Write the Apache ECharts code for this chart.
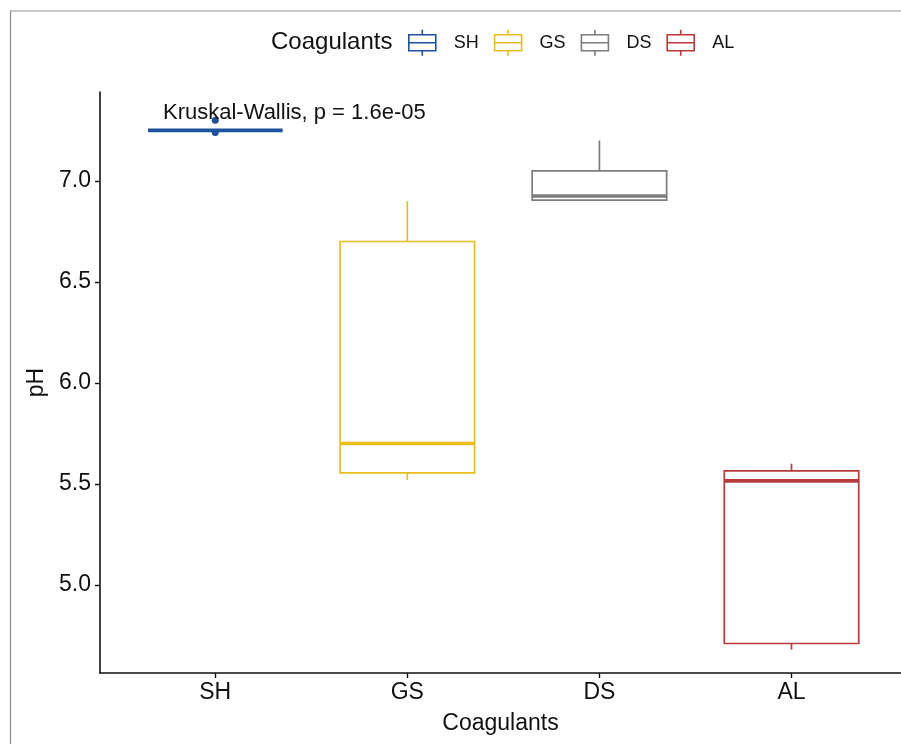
<!DOCTYPE html>
<html>
<head>
<meta charset="utf-8">
<script src="https://cdn.jsdelivr.net/npm/echarts@6/dist/echarts.min.js"></script>
<style>html,body{margin:0;padding:0;background:#fff;}#c{width:901px;height:744px;}</style>
</head>
<body>
<div id="c"></div>
<script>
// ---- data ----
const categories = ['SH', 'GS', 'DS', 'AL'];
const colors = ['#1d519c', '#e8bd1c', '#7d7d7d', '#b83b3b'];
// [min, Q1, median, Q3, max]
const boxSH = [7.25, 7.25, 7.25, 7.25, 7.25];
const boxGS = [5.52, 5.555, 5.70, 6.70, 6.90];
const boxDS = [6.905, 6.905, 6.925, 7.05, 7.20];
const boxAL = [4.68, 4.71, 5.515, 5.565, 5.60];
const outliersSH = [7.30, 7.24];
const yTicks = [5.0, 5.5, 6.0, 6.5, 7.0];
const statText = 'Kruskal-Wallis, p = 1.6e-05';

const boxes = [boxSH, boxGS, boxDS, boxAL];
const BOX_W = 0.7;
const FONT = "'Liberation Sans', Arial, Helvetica, sans-serif";
const legendIcon = 'path://M0,5 L27,5 L27,21 L0,21 Z M0,13 L27,13 M13.5,0 L13.5,5 M13.5,21 L13.5,26';

function renderBox(params, api) {
  const x = api.value(0);
  const lo = api.coord([x, api.value(1)]);
  const q1 = api.coord([x, api.value(2)]);
  const md = api.coord([x, api.value(3)]);
  const q3 = api.coord([x, api.value(4)]);
  const hi = api.coord([x, api.value(5)]);
  const w = api.size([BOX_W, 0])[0];
  const c = api.visual('color');
  const cx = lo[0];
  const stroke = { stroke: c, lineWidth: 1.7, fill: null };
  return {
    type: 'group',
    children: [
      { type: 'line', shape: { x1: cx, y1: hi[1], x2: cx, y2: q3[1] }, style: stroke },
      { type: 'line', shape: { x1: cx, y1: q1[1], x2: cx, y2: lo[1] }, style: stroke },
      { type: 'rect', shape: { x: cx - w / 2, y: q3[1], width: w, height: q1[1] - q3[1] },
        style: { stroke: c, lineWidth: 1.7, fill: 'rgba(255,255,255,0)' } },
      { type: 'line', shape: { x1: cx - w / 2, y1: md[1], x2: cx + w / 2, y2: md[1] },
        style: { stroke: c, lineWidth: 3.6 } }
    ]
  };
}

const series = categories.map((name, i) => ({
  name: name,
  type: 'custom',
  renderItem: renderBox,
  itemStyle: { color: colors[i] },
  encode: { x: 0, y: [1, 2, 3, 4, 5] },
  data: [[i].concat(boxes[i])],
  z: 2
}));
series.push({
  name: 'SH outliers',
  type: 'scatter',
  symbolSize: 7,
  itemStyle: { color: colors[0], opacity: 1 },
  data: outliersSH.map(v => [0, v]),
  z: 3
});

const chart = echarts.init(document.getElementById('c'), null, { renderer: 'canvas' });
chart.setOption({
  backgroundColor: '#fff',
  animation: false,
  textStyle: { fontFamily: FONT },
  title: {
    text: 'Coagulants', left: 271, top: 30, padding: 0,
    textStyle: { fontFamily: FONT, fontSize: 24, fontWeight: 'normal', color: '#111' }
  },
  legend: {
    left: 408, top: 29, padding: 0,
    itemWidth: 27, itemHeight: 26, itemGap: 15,
    data: categories.map((n, i) => ({
      name: n, icon: legendIcon,
      itemStyle: { color: 'rgba(255,255,255,0)', borderColor: colors[i], borderWidth: 1.6 }
    })),
    textStyle: { fontFamily: FONT, fontSize: 18, color: '#111', padding: [0, 0, 0, 13] },
    selectedMode: false
  },
  grid: { left: 100, right: 0, top: 92, bottom: 71, containLabel: false },
  xAxis: {
    type: 'value', min: -0.6, max: 3.57,
    name: 'Coagulants', nameLocation: 'middle', nameGap: 39,
    nameTextStyle: { fontFamily: FONT, fontSize: 23, color: '#111' },
    axisLine: { show: true, onZero: false, lineStyle: { color: '#111', width: 1.6 } },
    axisTick: { show: true, length: 5, customValues: [0, 1, 2, 3], lineStyle: { color: '#111', width: 1.4 } },
    axisLabel: {
      customValues: [0, 1, 2, 3], margin: 8,
      formatter: v => categories[Math.round(v)] || '',
      fontFamily: FONT, fontSize: 23, color: '#111'
    },
    splitLine: { show: false }
  },
  yAxis: {
    type: 'value', min: 4.564, max: 7.44,
    name: 'pH', nameLocation: 'middle', nameGap: 46, nameRotate: 90,
    nameTextStyle: { fontFamily: FONT, fontSize: 23, color: '#111' },
    axisLine: { show: true, onZero: false, lineStyle: { color: '#111', width: 1.6 } },
    axisTick: { show: true, length: 5, customValues: yTicks, lineStyle: { color: '#111', width: 1.4 } },
    axisLabel: {
      customValues: yTicks, margin: 9,
      formatter: v => Number(v).toFixed(1),
      fontFamily: FONT, fontSize: 23, color: '#111'
    },
    splitLine: { show: false }
  },
  graphic: [
    { type: 'line', shape: { x1: 10, y1: 11, x2: 901, y2: 11 }, style: { stroke: '#b5b5b5', lineWidth: 1.5 } },
    { type: 'line', shape: { x1: 10.5, y1: 11, x2: 10.5, y2: 744 }, style: { stroke: '#8a8a8a', lineWidth: 1.2 } },
    { type: 'text', left: 163, top: 102, z: 10,
      style: { text: statText, fontFamily: FONT, fontSize: 22, fill: '#111' } }
  ],
  series: series
});
</script>
</body>
</html>
